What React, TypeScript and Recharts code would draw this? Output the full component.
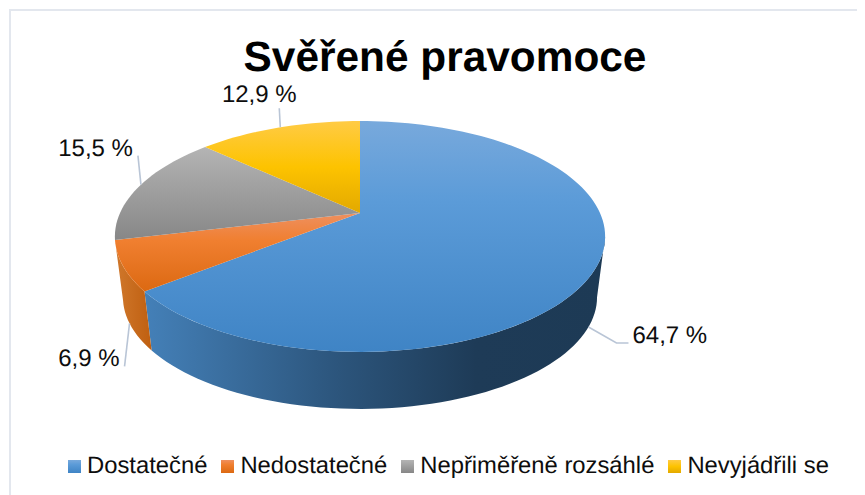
import React from 'react';
import { PieChart, Pie, Legend } from 'recharts';

const categories = ['Dostatečné', 'Nedostatečné', 'Nepřiměřeně rozsáhlé', 'Nevyjádřili se'];
const shares = [64.7, 6.9, 15.5, 12.9];
const shareLabels = ['64,7 %', '6,9 %', '15,5 %', '12,9 %'];

// top face gradient stops per slice: [offset, colour]
const topStops: [number, string][][] = [
  [[0, '#78a9dc'], [0.35, '#5b9bd8'], [1, '#3f84c5']],
  [[0, '#ee9060'], [0.35, '#f07f30'], [1, '#dc6912']],
  [[0, '#b4b4b4'], [1, '#878787']],
  [[0, '#ffcb45'], [0.5, '#fdc300'], [1, '#e3a900']],
];
const wallStops: [number, string][][] = [
  [[0, '#4480b8'], [0.42, '#2c557c'], [0.72, '#1e3b57'], [1, '#1d3a55']],
  [[0, '#d0782c'], [1, '#bf5f10']],
];

// perspective of the disc, fitted to the picture
const TILT = 0.2034;
const FLATTEN = 0.461;
const BOTTOM_SCALE = 0.967;
const DEPTH = 61.6;
const ANGLE_DRIFT = 1.3;

const FONT = '"Liberation Sans", Arial, sans-serif';

const project = (cx: number, cy: number, r: number, deg: number, bottom = false) => {
  const t = (deg * Math.PI) / 180;
  const u = Math.sin(t);
  const v = -Math.cos(t);
  const w = 1 - TILT * v;
  const k = bottom ? BOTTOM_SCALE : 1;
  return {
    x: cx + (k * r * u) / w,
    y: cy + (bottom ? DEPTH : 0) + (k * r * FLATTEN * v) / w,
  };
};

// the original's 3D view turns the slice edges back a little; zero at both ends of the circle
const drift = (deg: number) =>
  deg - ANGLE_DRIFT * Math.sqrt(Math.max(0, Math.sin((deg * Math.PI) / 360)));

const arcPoints = (cx: number, cy: number, r: number, from: number, to: number, bottom = false) => {
  const pts = [];
  const n = Math.max(2, Math.ceil(Math.abs(to - from) / 2));
  for (let i = 0; i <= n; i++) {
    pts.push(project(cx, cy, r, from + ((to - from) * i) / n, bottom));
  }
  return pts;
};

const toPath = (pts: { x: number; y: number }[]) =>
  pts.map((p, i) => `${i ? 'L' : 'M'}${p.x.toFixed(2)} ${p.y.toFixed(2)}`).join(' ');

// the near side of the disc is visible between these angles
const WALL_FROM = 101.7;
const WALL_TO = 258.3;

const Slice3D = (props: any) => {
  const { cx, cy, outerRadius, startAngle, endAngle, index } = props;
  const from = drift(90 - startAngle);
  const to = drift(90 - endAngle);
  const wa = Math.max(from, WALL_FROM);
  const wb = Math.min(to, WALL_TO);
  const top = arcPoints(cx, cy, outerRadius, from, to);
  return (
    <g>
      {wb > wa && (
        <path
          d={
            toPath([
              ...arcPoints(cx, cy, outerRadius, wa, wb),
              ...arcPoints(cx, cy, outerRadius, wb, wa, true),
            ]) + ' Z'
          }
          fill={`url(#wall${index})`}
        />
      )}
      <path d={toPath([{ x: cx, y: cy }, ...top]) + ' Z'} fill={`url(#top${index})`} />
    </g>
  );
};

// leader line and text, relative to where the leader meets the slice
const leaderBends = [[[28, 16], [40, 16]], [[-5, 43]], [[-3, -29]], [[-1, -19]]];
const textOffsets = [[44, 16], [-10, 43], [-8, -29], [-21, -25]];
const textAnchors = ['start', 'end', 'end', 'middle'];

const renderLabel = (props: any) => {
  const { cx, cy, outerRadius, midAngle, index } = props;
  const deg = 90 - midAngle;
  const near = -Math.cos((deg * Math.PI) / 180) > 0;
  const a = project(cx, cy, outerRadius, deg, near);
  const line = [a, ...leaderBends[index].map(([dx, dy]) => ({ x: a.x + dx, y: a.y + dy }))];
  return (
    <g key={index}>
      <path d={toPath(line)} fill="none" stroke="#b9c5d6" strokeWidth={1.6} />
      <text
        x={a.x + textOffsets[index][0]}
        y={a.y + textOffsets[index][1]}
        textAnchor={textAnchors[index] as any}
        fontFamily={FONT}
        fontSize={24}
        fill="#0d0d0d"
      >
        {shareLabels[index]}
      </text>
    </g>
  );
};

const LegendRow = () => (
  <div style={{ display: 'flex', alignItems: 'center', fontFamily: FONT, fontSize: 23.8, color: '#0d0d0d', whiteSpace: 'nowrap' }}>
    {categories.map((c, i) => (
      <span key={c} style={{ display: 'flex', alignItems: 'center', marginRight: 14 }}>
        <svg width={13} height={13} style={{ marginRight: 6 }}>
          <rect width={13} height={13} fill={`url(#top${i})`} />
        </svg>
        {c}
      </span>
    ))}
  </div>
);

const App: React.FC = () => {
  const pieData = categories.map((name, i) => ({ name, share: shares[i] }));
  return (
    <div style={{ position: 'relative', width: 865, height: 495, margin: '-8px 0 0 -8px', background: '#fff', overflow: 'hidden', textRendering: 'geometricPrecision' }}>
      <div style={{ position: 'absolute', left: 9, top: 9, width: 900, height: 600, border: '2px solid #e3e7ee' }} />
      <div style={{ position: 'absolute', left: 0, top: 0 }}>
        <PieChart width={865} height={495} margin={{ top: 0, right: 0, bottom: 0, left: 0 }}>
          <defs>
            {topStops.map((stops, i) => (
              <linearGradient key={i} id={`top${i}`} x1="0" y1="0" x2="0" y2="1">
                {stops.map(([o, c]) => (
                  <stop key={o} offset={o} stopColor={c} />
                ))}
              </linearGradient>
            ))}
            {wallStops.map((stops, i) => (
              <linearGradient key={i} id={`wall${i}`} x1="0" y1="0" x2="1" y2="0">
                {stops.map(([o, c]) => (
                  <stop key={o} offset={o} stopColor={c} />
                ))}
              </linearGradient>
            ))}
          </defs>
          <text x={445} y={71} textAnchor="middle" fontFamily={FONT} fontSize={42.4} fontWeight="bold" fill="#000">
            Svěřené pravomoce
          </text>
          <Pie
            data={pieData}
            dataKey="share"
            nameKey="name"
            cx={360}
            cy={213}
            outerRadius={240}
            startAngle={90}
            endAngle={-270}
            stroke="none"
            shape={Slice3D}
            label={renderLabel}
            labelLine={false}
            isAnimationActive={false}
          />
          <Legend content={<LegendRow />} wrapperStyle={{ position: 'absolute', left: 68, top: 452, width: 800, bottom: 'auto' }} />
        </PieChart>
      </div>
    </div>
  );
};

export default App;
